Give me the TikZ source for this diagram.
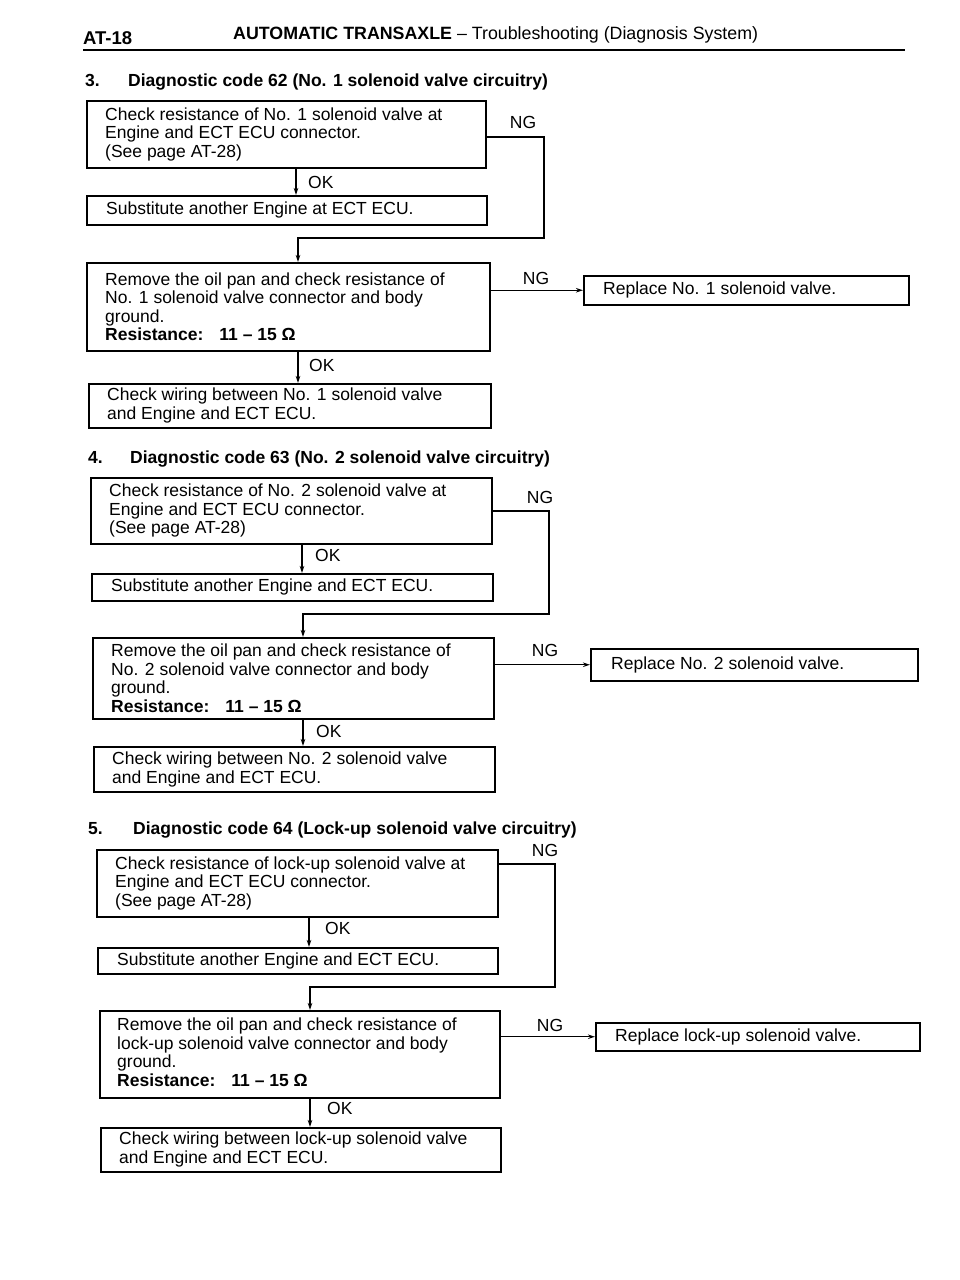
\documentclass[tikz,border=0pt]{standalone}
\usepackage{fontspec}
\setmainfont{Liberation Sans}
\usetikzlibrary{arrows.meta}
\begin{document}
\begin{tikzpicture}[x=1pt,y=-1pt,
 box/.style={draw, line width=1.5pt, anchor=north west, inner sep=0pt},
 txt/.style={anchor=west, inner sep=0pt, align=left, font=\fontsize{17.5}{18.6}\selectfont},
 lbl/.style={inner sep=0pt, font=\fontsize{17.5}{18.6}\selectfont},
 arr/.style={line width=1.2pt, -{Stealth[length=7pt,width=4.5pt]}},
 ttl/.style={anchor=base west, inner sep=0pt, font=\bfseries\fontsize{17.5}{20}\selectfont}]
\fill[white] (0,0) rectangle (960,1280);
\useasboundingbox (0,0) rectangle (960,1280);

% header
\node[ttl, font=\bfseries\fontsize{18.5}{20}\selectfont] (hA) at (83,44) {AT-18};
\node[ttl, font=\fontsize{17.8}{20}\selectfont] (hB) at (233,39) {\textbf{AUTOMATIC TRANSAXLE} -- Troubleshooting (Diagnosis System)};
\draw[line width=2.6pt] (83,50) -- (905,50);

% ===== Section 3 =====
\node[ttl] (s3n) at (85,86) {3.};
\node[ttl] (s3t) at (128,86) {Diagnostic code 62 (No. 1 solenoid valve circuitry)};

\node[box, minimum width=399pt, minimum height=67pt] (b31) at (86,100) {};
\node[txt] (t31) at ([xshift=19pt]b31.west) {Check resistance of No. 1 solenoid valve at\\Engine and ECT ECU connector.\\(See page AT-28)};
\node[box, minimum width=400pt, minimum height=29pt] (b32) at (86,195) {};
\node[txt] (t32) at ([xshift=20pt]b32.west) {Substitute another Engine at ECT ECU.};
\node[box, minimum width=403pt, minimum height=88pt] (b33) at (86,262) {};
\node[txt] (t33) at ([xshift=19pt]b33.west) {Remove the oil pan and check resistance of\\No. 1 solenoid valve connector and body\\ground.\\\textbf{Resistance:}\hspace{16pt}\textbf{11 -- 15 Ω}};
\node[box, minimum width=402pt, minimum height=44pt] (b34) at (88,383) {};
\node[txt] (t34) at ([xshift=19pt]b34.west) {Check wiring between No. 1 solenoid valve\\and Engine and ECT ECU.};
\node[box, minimum width=325pt, minimum height=29pt] (r3) at (583,275) {};
\node[txt] (tr3) at ([xshift=20pt]r3.west) {Replace No. 1 solenoid valve.};

\coordinate (k31) at (296,180);
\coordinate (g31) at (544,137);
\coordinate (g32) at (298,238);
\draw[arr] (k31 |- b31.south) -- (k31 |- b32.north);
\node[lbl, anchor=west] (ok31) at (308,182) {OK};
\draw[arr] (b31.east |- g31) -- (g31) |- (g32) -- (g32 |- b33.north);
\node[lbl] (ng31) at (523,122) {NG};
\draw[arr] (g32 |- b33.south) -- (g32 |- b34.north);
\node[lbl, anchor=west] (ok32) at (309,365) {OK};
\draw[arr] (b33.east |- r3.west) -- (r3.west);
\node[lbl] (ng32) at (536,278) {NG};

% ===== Section 4 =====
\node[ttl] (s4n) at (88,463) {4.};
\node[ttl] (s4t) at (130,463) {Diagnostic code 63 (No. 2 solenoid valve circuitry)};

\node[box, minimum width=401pt, minimum height=66pt] (b41) at (90,477) {};
\node[txt] (t41) at ([xshift=19pt]b41.west) {Check resistance of No. 2 solenoid valve at\\Engine and ECT ECU connector.\\(See page AT-28)};
\node[box, minimum width=401pt, minimum height=27pt] (b42) at (91,573) {};
\node[txt] (t42) at ([xshift=20pt]b42.west) {Substitute another Engine and ECT ECU.};
\node[box, minimum width=401pt, minimum height=81pt] (b43) at (92,637) {};
\node[txt] (t43) at ([xshift=19pt]b43.west) {Remove the oil pan and check resistance of\\No. 2 solenoid valve connector and body\\ground.\\\textbf{Resistance:}\hspace{16pt}\textbf{11 -- 15 Ω}};
\node[box, minimum width=401pt, minimum height=45pt] (b44) at (93,746) {};
\node[txt] (t44) at ([xshift=19pt]b44.west) {Check wiring between No. 2 solenoid valve\\and Engine and ECT ECU.};
\node[box, minimum width=327pt, minimum height=32pt] (r4) at (590,648) {};
\node[txt] (tr4) at ([xshift=21pt]r4.west) {Replace No. 2 solenoid valve.};

\coordinate (k41) at (302,560);
\coordinate (g41) at (549,511);
\coordinate (g42) at (303,614);
\draw[arr] (k41 |- b41.south) -- (k41 |- b42.north);
\node[lbl, anchor=west] (ok41) at (315,555) {OK};
\draw[arr] (b41.east |- g41) -- (g41) |- (g42) -- (g42 |- b43.north);
\node[lbl] (ng41) at (540,497) {NG};
\draw[arr] (g42 |- b43.south) -- (g42 |- b44.north);
\node[lbl, anchor=west] (ok42) at (316,731) {OK};
\draw[arr] (b43.east |- r4.west) -- (r4.west);
\node[lbl] (ng42) at (545,650) {NG};

% ===== Section 5 =====
\node[ttl] (s5n) at (88,834) {5.};
\node[ttl] (s5t) at (133,834) {Diagnostic code 64 (Lock-up solenoid valve circuitry)};

\node[box, minimum width=401pt, minimum height=67pt] (b51) at (96,849) {};
\node[txt] (t51) at ([xshift=19pt]b51.west) {Check resistance of lock-up solenoid valve at\\Engine and ECT ECU connector.\\(See page AT-28)};
\node[box, minimum width=400pt, minimum height=26pt] (b52) at (97,947) {};
\node[txt] (t52) at ([xshift=20pt]b52.west) {Substitute another Engine and ECT ECU.};
\node[box, minimum width=400pt, minimum height=87pt] (b53) at (99,1010) {};
\node[txt] (t53) at ([xshift=18pt,yshift=2pt]b53.west) {Remove the oil pan and check resistance of\\lock-up solenoid valve connector and body\\ground.\\\textbf{Resistance:}\hspace{16pt}\textbf{11 -- 15 Ω}};
\node[box, minimum width=400pt, minimum height=44pt] (b54) at (100,1127) {};
\node[txt] (t54) at ([xshift=19pt]b54.west) {Check wiring between lock-up solenoid valve\\and Engine and ECT ECU.};
\node[box, minimum width=324pt, minimum height=28pt] (r5) at (595,1022) {};
\node[txt] (tr5) at ([xshift=20pt]r5.west) {Replace lock-up solenoid valve.};

\coordinate (k51) at (309,930);
\coordinate (g51) at (555,864);
\coordinate (g52) at (310,987);
\draw[arr] (k51 |- b51.south) -- (k51 |- b52.north);
\node[lbl, anchor=west] (ok51) at (325,928) {OK};
\draw[arr] (b51.east |- g51) -- (g51) |- (g52) -- (g52 |- b53.north);
\node[lbl] (ng51) at (545,850) {NG};
\draw[arr] (g52 |- b53.south) -- (g52 |- b54.north);
\node[lbl, anchor=west] (ok52) at (327,1108) {OK};
\draw[arr] (b53.east |- r5.west) -- (r5.west);
\node[lbl] (ng52) at (550,1025) {NG};
\end{tikzpicture}
\end{document}
